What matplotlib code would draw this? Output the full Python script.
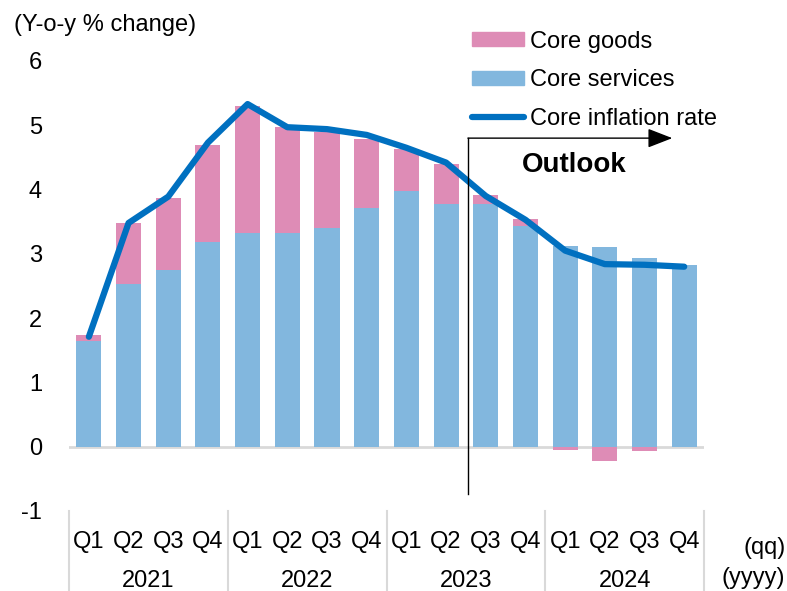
import numpy as np
import matplotlib
matplotlib.use("Agg")
import matplotlib.pyplot as plt
from matplotlib.patches import Patch
from matplotlib.lines import Line2D

plt.rcParams['font.family'] = ['Liberation Sans', 'DejaVu Sans']
plt.rcParams['font.size'] = 17
plt.rcParams['axes.unicode_minus'] = False

#=== Data ===
quarters = ["Q1", "Q2", "Q3", "Q4"] * 4
years = ["2021", "2022", "2023", "2024"]
core_services = [1.65, 2.53, 2.75, 3.18, 3.33, 3.33, 3.40, 3.71,
                 3.98, 3.78, 3.77, 3.44, 3.12, 3.10, 2.94, 2.83]
core_goods = [0.08, 0.95, 1.12, 1.52, 1.97, 1.65, 1.49, 1.08,
              0.65, 0.61, 0.14, 0.10, -0.05, -0.22, -0.07, 0.0]
core_rate = [1.71, 3.48, 3.89, 4.73, 5.33, 4.97, 4.94, 4.85,
             4.65, 4.42, 3.90, 3.53, 3.05, 2.84, 2.83, 2.80]
outlook_start = 9.55  # between 2023 Q2 and Q3

#=== Colors ===
C_GOODS = "#DE8CB6"
C_SERV = "#82B7DE"
C_LINE = "#0070C0"

x = np.arange(len(quarters))
serv = np.array(core_services)
goods = np.array(core_goods)
goods_bottom = np.where(goods >= 0, serv, 0)

fig = plt.figure(figsize=(7.87, 5.91), dpi=100)
ax = fig.add_axes([0.0877, 0.1354, 0.8069, 0.7614])

ax.axhline(0, color="#D9D9D9", lw=2, zorder=1)
ax.bar(x, serv, width=0.63, color=C_SERV, zorder=2)
ax.bar(x, goods, width=0.63, bottom=goods_bottom, color=C_GOODS, zorder=2)
ax.plot(x, core_rate, color=C_LINE, lw=4.5, solid_capstyle="round",
        solid_joinstyle="round", zorder=3)

ax.set_xlim(-0.5, len(quarters) - 0.5)
ax.set_ylim(-1, 6)
ax.set_yticks(range(-1, 7))
ax.tick_params(axis="y", length=0, pad=19.5)
ax.set_xticks([])
for s in ax.spines.values():
    s.set_visible(False)

#=== Category axis (quarters / years) ===
trans = ax.get_xaxis_transform()
for i, q in enumerate(quarters):
    ax.text(i, -0.068, q, transform=trans, ha="center", va="center")
for j, yr in enumerate(years):
    ax.text(j * 4 + 1.5, -0.156, yr, transform=trans, ha="center", va="center")
for k in range(len(years) + 1):
    ax.plot([k * 4 - 0.5] * 2, [0, -0.18], transform=trans, color="#D9D9D9",
            lw=1.5, clip_on=False)
fig.text(0.998, 0.072, "(qq)", ha="right", va="center")
fig.text(0.998, 0.022, "(yyyy)", ha="right", va="center")

#=== Outlook marker ===
ax.plot([outlook_start, outlook_start], [-0.73, 4.80], color="black", lw=1,
        clip_on=False, zorder=4)
ax.annotate("", xy=(14.7, 4.80), xytext=(outlook_start, 4.80),
            arrowprops=dict(arrowstyle="-|>,head_length=0.9,head_width=0.35",
                            color="black", lw=1, shrinkA=0, shrinkB=0))
ax.text(12.24, 4.38, "Outlook", fontsize=20, fontweight="bold",
        ha="center", va="center")

fig.text(0.018, 0.958, "(Y-o-y % change)", ha="left", va="center")

#=== Legend ===
handles = [Patch(color=C_GOODS), Patch(color=C_SERV),
           Line2D([], [], color=C_LINE, lw=4.5, solid_capstyle="round")]
labels = ["Core goods", "Core services", "Core inflation rate"]
fig.legend(handles, labels, loc="upper left", bbox_to_anchor=(0.5997, 0.948),
           frameon=False, borderpad=0, borderaxespad=0, handlelength=2.2,
           handleheight=0.55, handletextpad=0.27, labelspacing=0.7)

fig.savefig("out.png", dpi=100)
